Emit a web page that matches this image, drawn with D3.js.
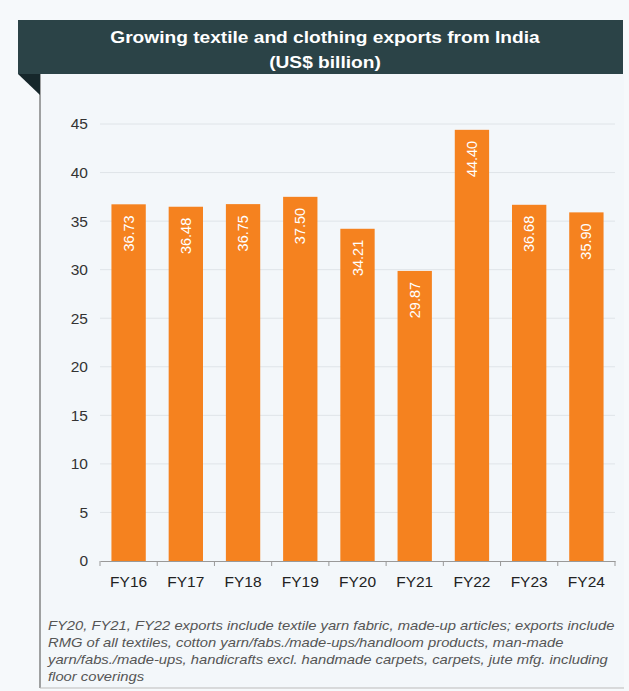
<!DOCTYPE html>
<html>
<head>
<meta charset="utf-8">
<script src="https://cdn.jsdelivr.net/npm/d3@7"></script>
<style>
  body { margin: 0; background: #f4f7fa; }
  svg { display: block; font-family: "Liberation Sans", Arial, sans-serif; }
</style>
</head>
<body>
<svg id="stage" width="629" height="691"></svg>
<script>
// chart data
var years = ["FY16", "FY17", "FY18", "FY19", "FY20", "FY21", "FY22", "FY23", "FY24"];
var exportsBn = [36.73, 36.48, 36.75, 37.50, 34.21, 29.87, 44.40, 36.68, 35.90];
var yTicks = [0, 5, 10, 15, 20, 25, 30, 35, 40, 45];
var titleLines = ["Growing textile and clothing exports from India", "(US$ billion)"];
var noteLines = [
  "FY20, FY21, FY22 exports include textile yarn fabric, made-up articles; exports include",
  "RMG of all textiles, cotton yarn/fabs./made-ups/handloom products, man-made",
  "yarn/fabs./made-ups, handicrafts excl. handmade carpets, carpets, jute mfg. including",
  "floor coverings"
];

var svg = d3.select("#stage");

// page + panel
svg.append("rect").attr("width", 629).attr("height", 691).attr("fill", "#f6f9fb");
svg.append("rect").attr("x", 40).attr("y", 74).attr("width", 584).attr("height", 614)
  .attr("fill", "#f3f7fa");
svg.append("line").attr("x1", 40).attr("x2", 40).attr("y1", 74).attr("y2", 688)
  .attr("stroke", "#666").attr("stroke-width", 1.2);
svg.append("line").attr("x1", 40).attr("x2", 624).attr("y1", 688).attr("y2", 688)
  .attr("stroke", "#bbb").attr("stroke-width", 1);

// header banner with folded corner
svg.append("path").attr("d", "M18,74 L40,74 L40,95 Z").attr("fill", "#16272b");
svg.append("rect").attr("x", 18).attr("y", 20).attr("width", 605).attr("height", 54)
  .attr("fill", "#2b4347");

// stretch a group of text lines horizontally so the first one gets a given width
function stretchLines(sel, targetW, cx, anchorX) {
  var w = sel.node().getComputedTextLength();
  var k = targetW / w;
  sel.attr("transform", function() {
    return "translate(" + anchorX + ",0) scale(" + k + ",1) translate(" + (-anchorX) + ",0)";
  });
}

var titles = svg.selectAll("text.title").data(titleLines).enter().append("text")
  .attr("class", "title")
  .attr("x", 325)
  .attr("y", function(d, i) { return 43 + i * 25; })
  .attr("text-anchor", "middle")
  .attr("fill", "#ffffff")
  .style("font-size", "16px")
  .style("font-weight", "bold")
  .text(function(d) { return d; });
stretchLines(titles, 430, 325, 325);

// scales
var x = d3.scaleBand().domain(years).range([100, 615]).paddingInner(0.4).paddingOuter(0.2);
var y = d3.scaleLinear().domain([0, 45]).range([561, 124]);

// gridlines
svg.selectAll("line.grid").data(yTicks.filter(function(t) { return t > 0; })).enter()
  .append("line")
  .attr("class", "grid")
  .attr("x1", 100).attr("x2", 615)
  .attr("y1", function(d) { return y(d); })
  .attr("y2", function(d) { return y(d); })
  .attr("stroke", "#dfe4e8").attr("stroke-width", 1);

// y axis labels
var yAxis = d3.axisLeft(y).tickValues(yTicks).tickSize(0).tickPadding(0);
var gy = svg.append("g").attr("transform", "translate(100,0)").call(yAxis);
gy.select(".domain").remove();
gy.selectAll("text").attr("x", -12).style("font-size", "15.5px").attr("fill", "#333");

// bars
svg.selectAll("rect.bar").data(exportsBn).enter().append("rect")
  .attr("class", "bar")
  .attr("x", function(d, i) { return x(years[i]); })
  .attr("y", function(d) { return y(d); })
  .attr("width", x.bandwidth())
  .attr("height", function(d) { return y(0) - y(d); })
  .attr("fill", "#f5821f");

// value labels, rotated inside the bars (reading upwards)
svg.selectAll("text.val").data(exportsBn).enter().append("text")
  .attr("class", "val")
  .attr("transform", function(d, i) {
    return "translate(" + (x(years[i]) + x.bandwidth() / 2 + 5) + "," + (y(d) + 11) + ") rotate(-90)";
  })
  .attr("text-anchor", "end")
  .attr("fill", "#ffffff")
  .style("font-size", "14.5px")
  .text(function(d) { return d.toFixed(2); });

// x axis
var xAxis = d3.axisBottom(x).tickSize(0).tickPadding(15);
var gx = svg.append("g").attr("transform", "translate(0,561)").call(xAxis);
gx.select(".domain").attr("stroke", "#999");
gx.selectAll("text").style("font-size", "15.5px").attr("fill", "#222");
// tick marks at category boundaries
var bounds = years.map(function(c) { return x(c) - x.step() * x.paddingInner() / 2; });
bounds.push(615);
svg.selectAll("line.xtick").data(bounds).enter().append("line")
  .attr("class", "xtick")
  .attr("x1", function(d) { return d; }).attr("x2", function(d) { return d; })
  .attr("y1", 561).attr("y2", 566)
  .attr("stroke", "#999");

// footnote
var notes = svg.selectAll("text.note").data(noteLines).enter().append("text")
  .attr("class", "note")
  .attr("x", 48)
  .attr("y", function(d, i) { return 630 + i * 17; })
  .attr("fill", "#555")
  .style("font-size", "13.5px")
  .style("font-style", "italic")
  .text(function(d) { return d; });
stretchLines(notes, 567, 48, 48);
</script>
</body>
</html>
